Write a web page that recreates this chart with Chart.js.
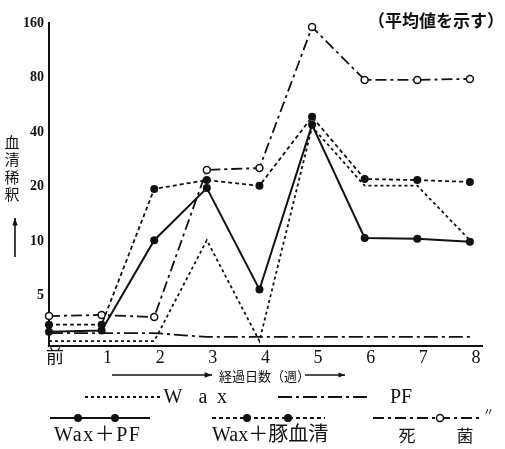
<!DOCTYPE html>
<html>
<head>
<meta charset="utf-8">
<script src="https://cdn.jsdelivr.net/npm/chart.js@4.4.0/dist/chart.umd.min.js"></script>
<style>
  html, body { margin: 0; padding: 0; background: #fff; }
  #wrap { width: 505px; height: 449px; }
</style>
</head>
<body>
<div id="wrap"><canvas id="titerChart" width="505" height="449"></canvas></div>
<script>
// =========================================
// Data: serum dilution (mean) by week
// =========================================
const weeks = [0, 1, 2, 3, 4, 5, 6, 7, 8];
const weekLabels = ["前", "1", "2", "3", "4", "5", "6", "7", "8"];
const titerTicks = [5, 10, 20, 40, 80, 160];

const wax = [2.8, 2.8, 2.8, 10.1, 2.8, 42.7, 20.2, 20.2, 10.1];
const pf = [3.1, 3.1, 3.1, 2.95, 2.95, 2.95, 2.95, 2.95, 2.95];
const waxPf = [3.15, 3.2, 10.1, 19.6, 5.4, 43.8, 10.4, 10.3, 9.9];
const waxSerum = [3.45, 3.45, 19.4, 21.7, 20.2, 48.5, 22.0, 21.7, 21.2];
const killed = [3.85, 3.9, 3.8, 24.7, 25.3, 152, 77.6, 77.6, 78.6];

const INK = "#111";
const SERIF = "'Liberation Serif', 'Noto Sans CJK JP', serif";
const JP = "'Noto Sans CJK JP', sans-serif";

function points(values) {
    return weeks.map((w, i) => ({ x: w, y: values[i] }));
}

function arrow(ctx, x1, y1, x2, y2, head) {
    const a = Math.atan2(y2 - y1, x2 - x1);
    ctx.beginPath();
    ctx.moveTo(x1, y1);
    ctx.lineTo(x2, y2);
    ctx.stroke();
    ctx.beginPath();
    ctx.moveTo(x2, y2);
    ctx.lineTo(x2 - head * Math.cos(a - 0.35), y2 - head * Math.sin(a - 0.35));
    ctx.lineTo(x2 - head * Math.cos(a + 0.35), y2 - head * Math.sin(a + 0.35));
    ctx.closePath();
    ctx.fill();
}

function sample(ctx, x1, x2, y, dash, dots, open) {
    ctx.lineWidth = 1.8;
    ctx.setLineDash(dash);
    ctx.beginPath();
    ctx.moveTo(x1, y);
    ctx.lineTo(x2, y);
    ctx.stroke();
    ctx.setLineDash([]);
    dots.forEach((x) => {
        ctx.beginPath();
        ctx.arc(x, y, open ? 3.5 : 4, 0, Math.PI * 2);
        if (open) {
            ctx.fillStyle = "#fff";
            ctx.fill();
            ctx.lineWidth = 1.5;
            ctx.stroke();
            ctx.fillStyle = INK;
        } else {
            ctx.fill();
        }
    });
}

// =========================================
// Texts, axis titles and legend
// =========================================
const annotations = {
    id: "annotations",
    afterDraw(chart) {
        const ctx = chart.ctx;
        ctx.save();
        ctx.fillStyle = INK;
        ctx.strokeStyle = INK;
        ctx.textBaseline = "middle";

        // note at top right
        ctx.font = "bold 17px " + JP;
        ctx.textAlign = "right";
        ctx.fillText("（平均値を示す）", 504, 21);

        // y title, stacked vertically
        ctx.font = "15px " + JP;
        ctx.textAlign = "center";
        ["血", "清", "稀", "釈"].forEach((ch, i) => {
            ctx.fillText(ch, 12, 142 + i * 17.5);
        });
        ctx.lineWidth = 1.6;
        arrow(ctx, 15, 257, 15, 218, 8);

        // x title
        arrow(ctx, 112, 375, 212, 375, 8);
        ctx.font = "13px " + JP;
        ctx.textAlign = "left";
        ctx.fillText("経過日数（週）", 219, 376);
        ctx.lineWidth = 1.4;
        arrow(ctx, 305, 375, 345, 375, 7);

        // legend row 1
        ctx.strokeStyle = INK;
        sample(ctx, 85, 163, 397, [3, 3], [], false);
        ctx.font = "20px " + SERIF;
        ctx.textAlign = "center";
        ctx.fillText("W", 173, 398);
        ctx.fillText("a", 203, 398);
        ctx.fillText("x", 222, 398);
        sample(ctx, 278, 370, 397, [14, 4, 3, 4], [], false);
        ctx.textAlign = "left";
        ctx.fillText("PF", 390, 398);

        // legend row 2
        sample(ctx, 50, 150, 418, [], [78, 115], false);
        sample(ctx, 212, 325, 418, [4, 3], [247, 288], false);
        sample(ctx, 373, 483, 418, [11, 4, 3, 4], [440], true);
        ctx.font = "11px " + SERIF;
        ctx.fillText("〃", 483, 413);

        ctx.font = "20px " + SERIF;
        ctx.textAlign = "left";
        ctx.letterSpacing = "1.5px";
        ctx.fillText("Wax＋PF", 54, 436);
        ctx.letterSpacing = "0px";
        ctx.fillText("Wax＋豚血清", 212, 436);
        ctx.font = "17px " + JP;
        ctx.textAlign = "center";
        ctx.fillText("死", 407, 436);
        ctx.fillText("菌", 465, 436);

        ctx.restore();
    },
};

const lineBase = {
    borderColor: INK,
    borderWidth: 1.8,
    tension: 0,
    fill: false,
    pointRadius: 0,
    clip: false,
};

new Chart(document.getElementById("titerChart"), {
    type: "line",
    data: {
        datasets: [
            {
                ...lineBase,
                label: "死菌",
                data: points(killed),
                borderDash: [11, 4, 3, 4],
                pointRadius: 3.5,
                pointBackgroundColor: "#fff",
                pointBorderColor: INK,
                pointBorderWidth: 1.5,
            },
            {
                ...lineBase,
                label: "Wax+豚血清",
                data: points(waxSerum),
                borderDash: [4, 3],
                pointRadius: 4,
                pointBackgroundColor: INK,
                pointBorderWidth: 0,
            },
            {
                ...lineBase,
                label: "Wax+PF",
                data: points(waxPf),
                borderWidth: 2,
                pointRadius: 4,
                pointBackgroundColor: INK,
                pointBorderWidth: 0,
            },
            {
                ...lineBase,
                label: "PF",
                data: points(pf),
                borderDash: [14, 4, 3, 4],
            },
            {
                ...lineBase,
                label: "Wax",
                data: points(wax),
                borderDash: [3, 3],
            },
        ],
    },
    options: {
        responsive: false,
        animation: false,
        devicePixelRatio: 1,
        layout: {
            padding: { top: 23, right: 23, bottom: 79, left: 0 },
        },
        scales: {
            x: {
                type: "linear",
                min: 0,
                max: 8.23,
                afterBuildTicks: (scale) => {
                    scale.ticks = weeks.map((w) => ({ value: w }));
                },
                afterFit: (scale) => {
                    scale.height = 24;
                },
                ticks: {
                    callback: (value) => weekLabels[value],
                    color: INK,
                    padding: 1,
                    labelOffset: 6,
                    maxRotation: 0,
                    font: { family: SERIF, size: 18 },
                },
                grid: { display: false, drawTicks: false },
                border: { display: true, color: INK, width: 2 },
            },
            y: {
                type: "logarithmic",
                min: 2.63,
                max: 160,
                afterBuildTicks: (scale) => {
                    scale.ticks = titerTicks.map((v) => ({ value: v }));
                },
                afterFit: (scale) => {
                    scale.width = 49;
                },
                ticks: {
                    callback: (value) => String(value),
                    color: INK,
                    padding: 5,
                    font: { family: SERIF, size: 14, weight: "bold" },
                },
                grid: { display: false, drawTicks: false },
                border: { display: true, color: INK, width: 2 },
            },
        },
        plugins: {
            legend: { display: false },
            tooltip: { enabled: false },
        },
    },
    plugins: [annotations],
});
</script>
</body>
</html>
